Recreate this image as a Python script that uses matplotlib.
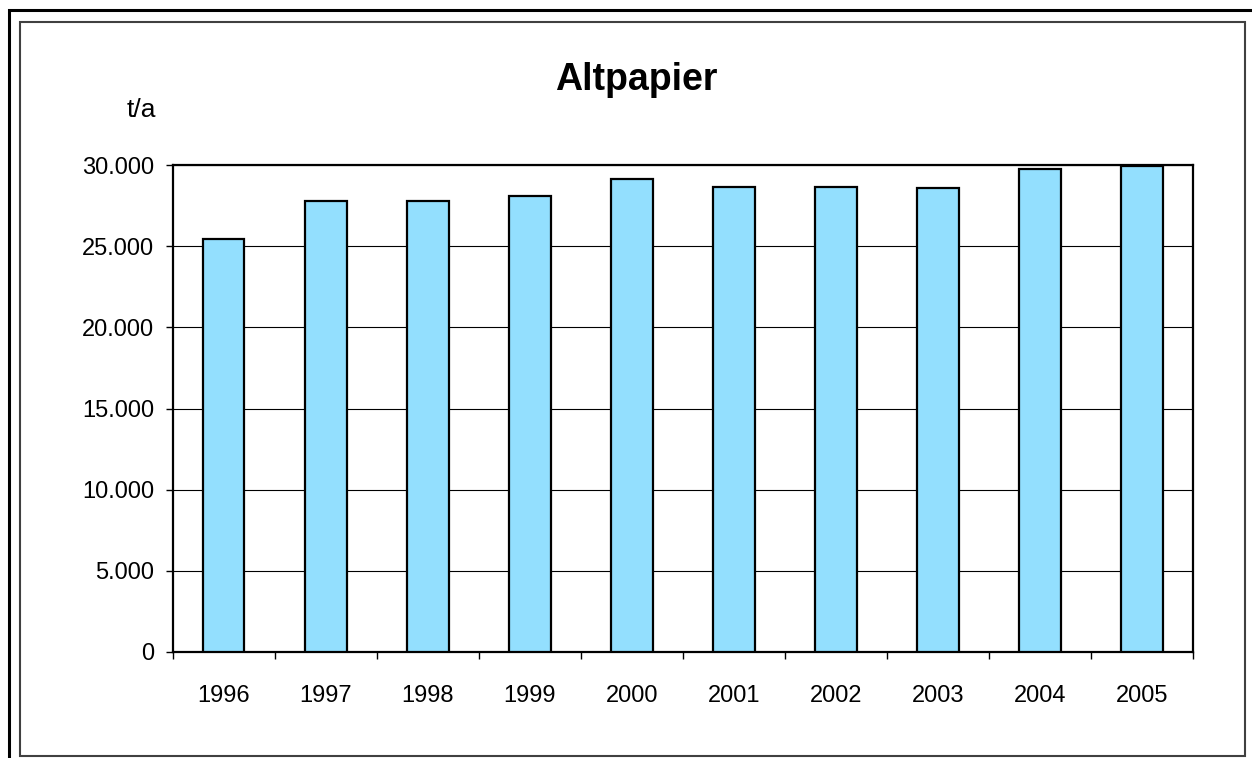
import matplotlib.pyplot as plt
from matplotlib.patches import Rectangle
import numpy as np

plt.rcParams['font.family'] = ['Liberation Sans', 'DejaVu Sans']

##data
years = ['1996', '1997', '1998', '1999', '2000', '2001', '2002', '2003', '2004', '2005']
tonnes = [25450, 27780, 27780, 28090, 29160, 28690, 28670, 28600, 29760, 29940]
yticks = [0, 5000, 10000, 15000, 20000, 25000, 30000]
ylabels = ['0', '5.000', '10.000', '15.000', '20.000', '25.000', '30.000']

W, H = 1252, 758
fig = plt.figure(figsize=(W / 100, H / 100), dpi=100)
ax = fig.add_axes([172.5 / W, 1 - 651.7 / H, (1193.3 - 172.5) / W, (651.7 - 165.3) / H])

x = np.arange(len(years))
ax.set_axisbelow(True)
ax.yaxis.grid(True, color='black', lw=0.8)
ax.bar(x, tonnes, width=0.41, color='#93DFFE', edgecolor='black', lw=1.6, zorder=3)

ax.set_xlim(-0.5, len(years) - 0.5)
ax.set_ylim(0, 30000)
ax.set_yticks(yticks)
ax.set_yticklabels(ylabels, fontsize=17)
ax.set_xticks(x)
ax.set_xticklabels(years, fontsize=17)
ax.set_xticks(np.arange(len(years) + 1) - 0.5, minor=True)
ax.tick_params(axis='x', which='major', length=0, pad=24)
ax.tick_params(axis='x', which='minor', length=5, width=1, direction='out')
ax.tick_params(axis='y', length=5, width=1, pad=8)
for s in ax.spines.values():
    s.set_linewidth(1.6)
    s.set_color('black')

fig.text(636 / W, 1 - 80 / H, 'Altpapier', fontsize=27, fontweight='bold', ha='center', va='center')
fig.text(141 / W, 1 - 110 / H, 't/a', fontsize=19, ha='center', va='center')

##frames round the chart
fig.patches.append(Rectangle((9 / W, -0.05), 1.1, 1 - 10 / H + 0.05, transform=fig.transFigure,
                             fill=False, edgecolor='black', lw=2.2))
fig.patches.append(Rectangle((20 / W, 1 - 756 / H), (1245 - 20) / W, (756 - 22) / H, transform=fig.transFigure,
                             fill=False, edgecolor='#404040', lw=1.5))

fig.savefig('out.png', dpi=100)
